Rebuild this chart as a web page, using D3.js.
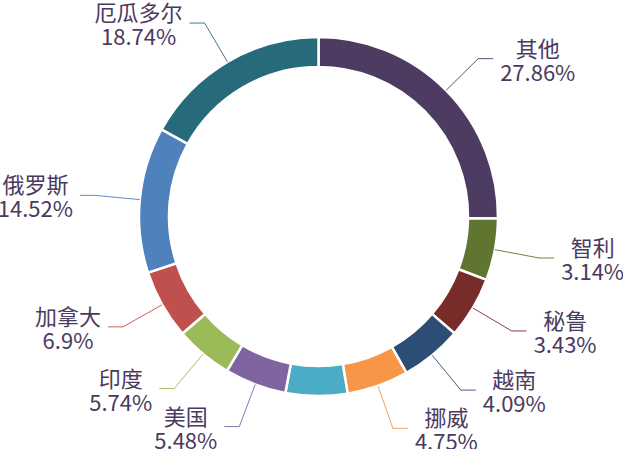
<!DOCTYPE html>
<html><head><meta charset="utf-8">
<script src="https://cdn.jsdelivr.net/npm/d3@7"></script>
<style>body{margin:0;background:#fff;overflow:hidden}</style>
</head><body><svg id="c" width="623" height="449"></svg>
<script>
// Data (clockwise from 12 o'clock)
const categories = ["其他", "智利", "秘鲁", "越南", "挪威", "未标注", "美国", "印度", "加拿大", "俄罗斯", "厄瓜多尔"];
const shares = [27.86, 3.14, 3.43, 4.09, 4.75, 5.35, 5.48, 5.74, 6.9, 14.52, 18.74];
const percentLabels = ["27.86%", "3.14%", "3.43%", "4.09%", "4.75%", "", "5.48%", "5.74%", "6.9%", "14.52%", "18.74%"];
const showLabel = [true, true, true, true, true, false, true, true, true, true, true];
const colors = ["#4d3b62", "#5f7530", "#772c2a", "#2c4d75", "#f79646", "#4bacc6", "#8064a2", "#9bbb59", "#c0504d", "#4f81bd", "#276a7c"];

const W = 623, H = 449;
const cx = 318.5, cy = 216.5;
const R = 179.5, r0 = 149.5;
const minAngle = 20;      // degrees (minimum sector angle)
const len1 = 45, len2 = 15, gap = 7;
const fontSize = 22, lineH = 24;
const textColor = "#4b3a60";

// minimum-angle layout: small sectors get minAngle, rest shared proportionally
const total = d3.sum(shares);
let rest = 360, sumLarge = 0;
const isMin = shares.map(v => {
  const a = v * 360 / total;
  if (a < minAngle) { rest -= minAngle; return true; }
  sumLarge += v; return false;
});
const sweep = shares.map((v, i) => isMin[i] ? minAngle : v * rest / sumLarge);

const data = categories.map((c, i) => ({name: c, value: shares[i], pct: percentLabels[i], color: colors[i], show: showLabel[i], sweep: sweep[i]}));
const pie = d3.pie().sort(null).value(d => d.sweep);
const arcs = pie(data);

const svg = d3.select("#c");
const g = svg.append("g").attr("transform", `translate(${cx},${cy})`);
const arc = d3.arc().innerRadius(r0).outerRadius(R);
g.selectAll("path.slice").data(arcs).join("path")
  .attr("class", "slice")
  .attr("d", arc)
  .attr("fill", d => d.data.color)
  .attr("stroke", "#fff")
  .attr("stroke-width", 2.5)
  .attr("stroke-linejoin", "round");

const arcEdge = d3.arc().innerRadius(R).outerRadius(R);
const arcOut = d3.arc().innerRadius(R + len1).outerRadius(R + len1);

const labeled = arcs.filter(d => d.data.show);
labeled.forEach(d => {
  const p0 = arcEdge.centroid(d);
  const p1 = arcOut.centroid(d);
  const mid = (d.startAngle + d.endAngle) / 2;
  const right = mid < Math.PI;
  const p2 = [p1[0] + (right ? len2 : -len2), p1[1]];
  g.append("polyline")
    .attr("points", [p0, p1, p2].map(p => p.join(",")).join(" "))
    .attr("fill", "none")
    .attr("stroke", d.data.color)
    .attr("stroke-width", 1)
    .attr("opacity", 0.9);

  const t = g.append("text")
    .attr("font-family", "'Noto Sans CJK SC', 'Noto Sans', sans-serif")
    .attr("font-size", fontSize)
    .attr("fill", textColor)
    .attr("text-anchor", "middle");
  const l1 = t.append("tspan").text(d.data.name).attr("dominant-baseline", "central");
  const l2 = t.append("tspan").text(d.data.pct).attr("dominant-baseline", "central");
  const w = Math.max(l1.node().getComputedTextLength(), l2.node().getComputedTextLength());
  const xc = right ? p2[0] + gap + w / 2 : p2[0] - gap - w / 2;
  l1.attr("x", xc).attr("y", p2[1] - lineH / 2);
  l2.attr("x", xc).attr("y", p2[1] + lineH / 2);
});
</script>
</body></html>
